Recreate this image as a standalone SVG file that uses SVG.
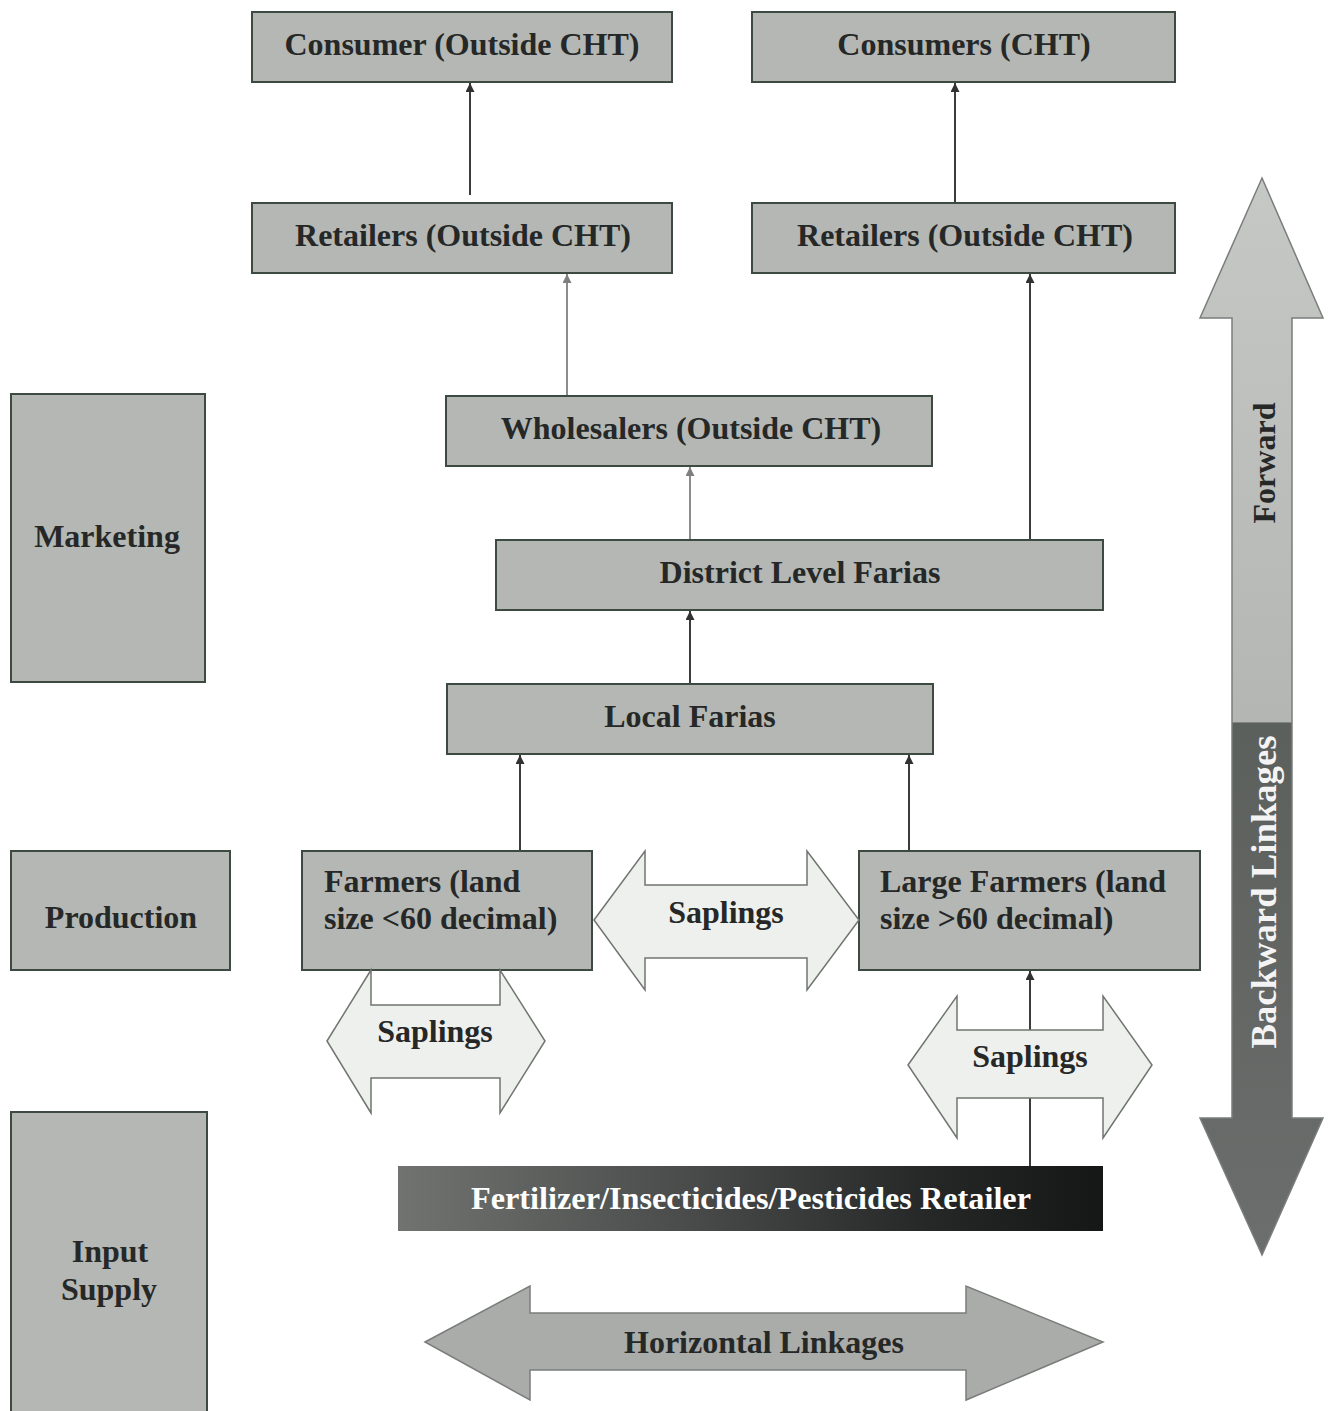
<svg xmlns="http://www.w3.org/2000/svg" width="1329" height="1411" viewBox="0 0 1329 1411">
<style>
.box{fill:#b4b7b4;stroke:#3c4a42;stroke-width:2}
.lbl{font-family:"Liberation Serif","Times New Roman",serif;font-weight:bold;font-size:32px;fill:#262827}
.sap{fill:#eef0ee;stroke:#707570;stroke-width:1.5}
.conn{stroke:#3a3d3b;stroke-width:2;fill:none;marker-end:url(#ah)}
.connl{stroke:#8a8d8b;stroke-width:2;fill:none;marker-end:url(#ahl)}
</style>
<defs>
<marker id="ah" viewBox="0 0 10 10" refX="10" refY="5" markerWidth="11" markerHeight="9" orient="auto" markerUnits="userSpaceOnUse">
<path d="M0,0 L10,5 L0,10 Z" fill="#2f3230"/>
</marker>
<marker id="ahl" viewBox="0 0 10 10" refX="10" refY="5" markerWidth="11" markerHeight="9" orient="auto" markerUnits="userSpaceOnUse">
<path d="M0,0 L10,5 L0,10 Z" fill="#7d807e"/>
</marker>
<linearGradient id="fert" x1="0" y1="0" x2="1" y2="0">
<stop offset="0" stop-color="#707370"/>
<stop offset="0.4" stop-color="#4a4d4b"/>
<stop offset="0.75" stop-color="#262827"/>
<stop offset="1" stop-color="#151616"/>
</linearGradient>
<linearGradient id="fb" gradientUnits="userSpaceOnUse" x1="0" y1="178" x2="0" y2="1255">
<stop offset="0" stop-color="#c6c8c6"/>
<stop offset="0.505" stop-color="#b4b6b4"/>
<stop offset="0.506" stop-color="#5c605d"/>
<stop offset="1" stop-color="#6b6e6c"/>
</linearGradient>
</defs>
<rect width="1329" height="1411" fill="#ffffff"/>

<g id="connectors">
<line class="conn" x1="470" y1="195" x2="470" y2="83"/>
<line class="conn" x1="955" y1="203" x2="955" y2="83"/>
<line class="connl" x1="567" y1="396" x2="567" y2="274"/>
<line class="connl" x1="690" y1="540" x2="690" y2="467"/>
<line class="conn" x1="690" y1="684" x2="690" y2="611"/>
<line class="conn" x1="520" y1="851" x2="520" y2="755"/>
<line class="conn" x1="909" y1="851" x2="909" y2="755"/>
<line class="conn" x1="1030" y1="540" x2="1030" y2="274"/>
<line class="conn" x1="1030" y1="1166" x2="1030" y2="971"/>
</g>

<g id="consumer-outside">
<rect class="box" x="252" y="12" width="420" height="70"/>
<text class="lbl" x="462" y="55" text-anchor="middle">Consumer (Outside CHT)</text>
</g>
<g id="consumers-cht">
<rect class="box" x="752" y="12" width="423" height="70"/>
<text class="lbl" x="964" y="55" text-anchor="middle">Consumers (CHT)</text>
</g>
<g id="retailers-left">
<rect class="box" x="252" y="203" width="420" height="70"/>
<text class="lbl" x="463" y="246" text-anchor="middle">Retailers (Outside CHT)</text>
</g>
<g id="retailers-right">
<rect class="box" x="752" y="203" width="423" height="70"/>
<text class="lbl" x="965" y="246" text-anchor="middle">Retailers (Outside CHT)</text>
</g>
<g id="wholesalers">
<rect class="box" x="446" y="396" width="486" height="70"/>
<text class="lbl" x="691" y="439" text-anchor="middle">Wholesalers (Outside CHT)</text>
</g>
<g id="district-farias">
<rect class="box" x="496" y="540" width="607" height="70"/>
<text class="lbl" x="800" y="583" text-anchor="middle">District Level Farias</text>
</g>
<g id="local-farias">
<rect class="box" x="447" y="684" width="486" height="70"/>
<text class="lbl" x="690" y="727" text-anchor="middle">Local Farias</text>
</g>
<g id="farmers">
<rect class="box" x="302" y="851" width="290" height="119"/>
<text class="lbl" x="324" y="892">Farmers (land</text>
<text class="lbl" x="324" y="929">size &lt;60 decimal)</text>
</g>
<g id="large-farmers">
<rect class="box" x="859" y="851" width="341" height="119"/>
<text class="lbl" x="880" y="892">Large Farmers (land</text>
<text class="lbl" x="880" y="929">size &gt;60 decimal)</text>
</g>
<g id="saplings-middle">
<path class="sap" d="M594,920 L645,851 L645,885 L807,885 L807,851 L859,920 L807,990 L807,958 L645,958 L645,990 Z"/>
<text class="lbl" x="726" y="923" text-anchor="middle" font-size="31">Saplings</text>
</g>
<g id="saplings-left">
<path class="sap" d="M327,1041 L371,970 L371,1005 L500,1005 L500,970 L545,1041 L500,1113 L500,1078 L371,1078 L371,1113 Z"/>
<text class="lbl" x="435" y="1042" text-anchor="middle" font-size="31">Saplings</text>
</g>
<g id="saplings-right">
<path class="sap" d="M908,1065 L957,996 L957,1030 L1103,1030 L1103,996 L1152,1065 L1103,1138 L1103,1098 L957,1098 L957,1138 Z"/>
<text class="lbl" x="1030" y="1067" text-anchor="middle" font-size="31">Saplings</text>
</g>
<g id="fertilizer-retailer">
<rect x="398" y="1166" width="705" height="65" fill="url(#fert)"/>
<text x="751" y="1209" text-anchor="middle" font-family="'Liberation Serif','Times New Roman',serif" font-weight="bold" font-size="31" fill="#ffffff" textLength="560" lengthAdjust="spacingAndGlyphs">Fertilizer/Insecticides/Pesticides Retailer</text>
</g>
<g id="marketing">
<rect class="box" x="11" y="394" width="194" height="288"/>
<text class="lbl" x="107" y="547" text-anchor="middle">Marketing</text>
</g>
<g id="production">
<rect class="box" x="11" y="851" width="219" height="119"/>
<text class="lbl" x="121" y="928" text-anchor="middle">Production</text>
</g>
<g id="input-supply">
<rect class="box" x="11" y="1112" width="196" height="305"/>
<text class="lbl" x="110" y="1262" text-anchor="middle">Input</text>
<text class="lbl" x="109" y="1300" text-anchor="middle">Supply</text>
</g>
<g id="forward-backward">
<path d="M1262,178 L1323,318 L1292,318 L1292,1118 L1323,1118 L1262,1255 L1200,1118 L1232,1118 L1232,318 L1200,318 Z" fill="url(#fb)" stroke="#7a7d7b" stroke-width="1.5"/>
<text class="lbl" transform="translate(1275,463) rotate(-90)" text-anchor="middle" font-size="33" fill="#3a3c3b">Forward</text>
<text transform="translate(1276,892) rotate(-90)" text-anchor="middle" font-family="'Liberation Serif','Times New Roman',serif" font-weight="bold" font-size="35" fill="#f4f4f4" textLength="313" lengthAdjust="spacingAndGlyphs">Backward Linkages</text>
</g>
<g id="horizontal-linkages">
<path d="M425,1342 L530,1286 L530,1313 L966,1313 L966,1286 L1103,1342 L966,1400 L966,1370 L530,1370 L530,1400 Z" fill="#a9aca9" stroke="#7a7d7b" stroke-width="1.5"/>
<text class="lbl" x="764" y="1353" text-anchor="middle" font-size="31" fill="#4a4d4b">Horizontal Linkages</text>
</g>
</svg>
